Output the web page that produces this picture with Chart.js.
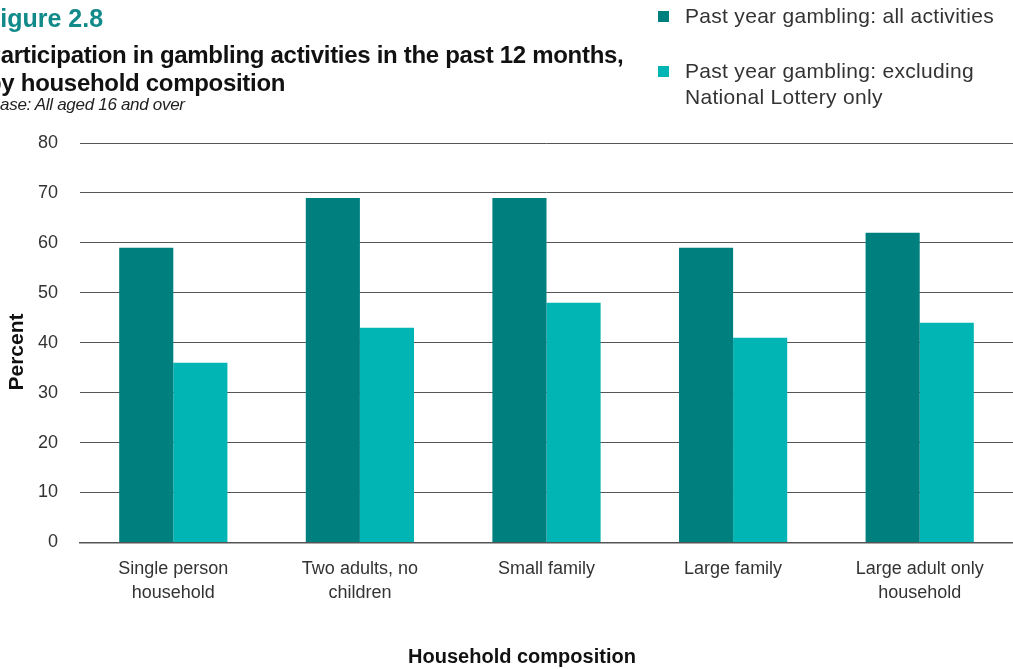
<!DOCTYPE html>
<html>
<head>
<meta charset="utf-8">
<script src="https://cdn.jsdelivr.net/npm/chart.js@4.4.1/dist/chart.umd.min.js"></script>
<style>
  html, body { margin: 0; padding: 0; background: #fff; overflow: hidden; }
  #wrap { position: relative; width: 1013px; height: 669px; }
  #chart { position: absolute; left: 0; top: 0; }
  .head { position: absolute; left: 0; top: 0; font-family: "Liberation Sans", Arial, sans-serif; white-space: nowrap; }
  .fig { position: absolute; top: 4px; font-size: 25px; font-weight: bold; color: #138a8a; }
  .ttl { position: absolute; font-size: 24px; font-weight: bold; color: #111; letter-spacing: -0.3px; }
  .base { position: absolute; top: 95px; font-size: 17px; font-style: italic; color: #222; letter-spacing: -0.3px; }
  #legend { position: absolute; left: 658px; top: 3px; font-family: "Liberation Sans", Arial, sans-serif; font-size: 21px; letter-spacing: 0.3px; color: #333; }
  .item { position: absolute; left: 0; width: 360px; line-height: 26px; }
  .item .sw { position: absolute; left: 0; top: 8px; width: 11px; height: 11px; }
  .item .tx { margin-left: 27px; display: block; }
</style>
</head>
<body>
<div id="wrap">
  <canvas id="chart" width="1013" height="669"></canvas>
  <div class="head">
    <div class="fig" style="left:-15px;">Figure 2.8</div>
    <div class="ttl" style="top:41px; left:-15px;">Participation in gambling activities in the past 12 months,</div>
    <div class="ttl" style="top:69px; left:-13px;">by household composition</div>
    <div class="base" style="left:-11px;">Base: All aged 16 and over</div>
  </div>
  <div id="legend"></div>
</div>
<script>
const categories = [
    ['Single person', 'household'],
    ['Two adults, no', 'children'],
    ['Small family'],
    ['Large family'],
    ['Large adult only', 'household']
];
const allActivities = [59, 69, 69, 59, 62];
const excludingLottery = [36, 43, 48, 41, 44];
const yTicks = [0, 10, 20, 30, 40, 50, 60, 70, 80];

const seriesLabels = ['Past year gambling: all activities', 'Past year gambling: excluding National Lottery only'];
const seriesColors = ['#007f7f', '#00b5b3'];

const ctx = document.getElementById('chart').getContext('2d');
const fontFamily = '"Liberation Sans", Arial, sans-serif';

// axis titles sit a little off-centre, so they are drawn by hand
const axisTitles = {
    id: 'axisTitles',
    afterDraw(chart) {
        const c = chart.ctx;
        c.save();
        c.fillStyle = '#111';
        c.textAlign = 'center';
        c.textBaseline = 'middle';
        c.font = 'bold 20px ' + fontFamily;
        c.fillText('Household composition', 522, 657);
        c.translate(17, 352);
        c.rotate(-Math.PI / 2);
        c.font = 'bold 21px ' + fontFamily;
        c.fillText('Percent', 0, 0);
        c.restore();
    }
};

const chart = new Chart(ctx, {
    type: 'bar',
    data: {
        labels: categories,
        datasets: [{
            label: seriesLabels[0],
            data: allActivities,
            backgroundColor: seriesColors[0],
            categoryPercentage: 0.58,
            barPercentage: 1
        }, {
            label: seriesLabels[1],
            data: excludingLottery,
            backgroundColor: seriesColors[1],
            categoryPercentage: 0.58,
            barPercentage: 1
        }]
    },
    options: {
        responsive: false,
        animation: false,
        layout: { padding: { top: 143, right: 0, bottom: 58, left: 0 } },
        plugins: {
            legend: { display: false },
            tooltip: { enabled: false }
        },
        scales: {
            x: {
                grid: { display: false },
                border: { display: true, color: '#555', width: 1.5 },
                ticks: {
                    color: '#333',
                    padding: 6,
                    maxRotation: 0,
                    font: { family: fontFamily, size: 18, lineHeight: 1.35 }
                }
            },
            y: {
                min: 0,
                max: 80,
                afterBuildTicks: function (scale) {
                    scale.ticks = yTicks.map(v => ({ value: v }));
                },
                afterFit: function (scale) {
                    scale.width = 80;
                },
                grid: { color: '#555', lineWidth: 1, drawTicks: false },
                border: { display: false },
                ticks: {
                    color: '#333',
                    padding: 22,
                    font: { family: fontFamily, size: 18 }
                }
            }
        }
    },
    plugins: [axisTitles]
});

// legend built from the dataset labels and colours
const legend = document.getElementById('legend');
const tops = [0, 55];
chart.data.datasets.forEach((ds, i) => {
    const item = document.createElement('div');
    item.className = 'item';
    item.style.top = tops[i] + 'px';
    const sw = document.createElement('span');
    sw.className = 'sw';
    sw.style.background = ds.backgroundColor;
    const tx = document.createElement('span');
    tx.className = 'tx';
    tx.textContent = ds.label;
    if (i === 1) {
        tx.innerHTML = 'Past year gambling: excluding<br>National Lottery only';
    }
    item.appendChild(sw);
    item.appendChild(tx);
    legend.appendChild(item);
});
</script>
</body>
</html>
